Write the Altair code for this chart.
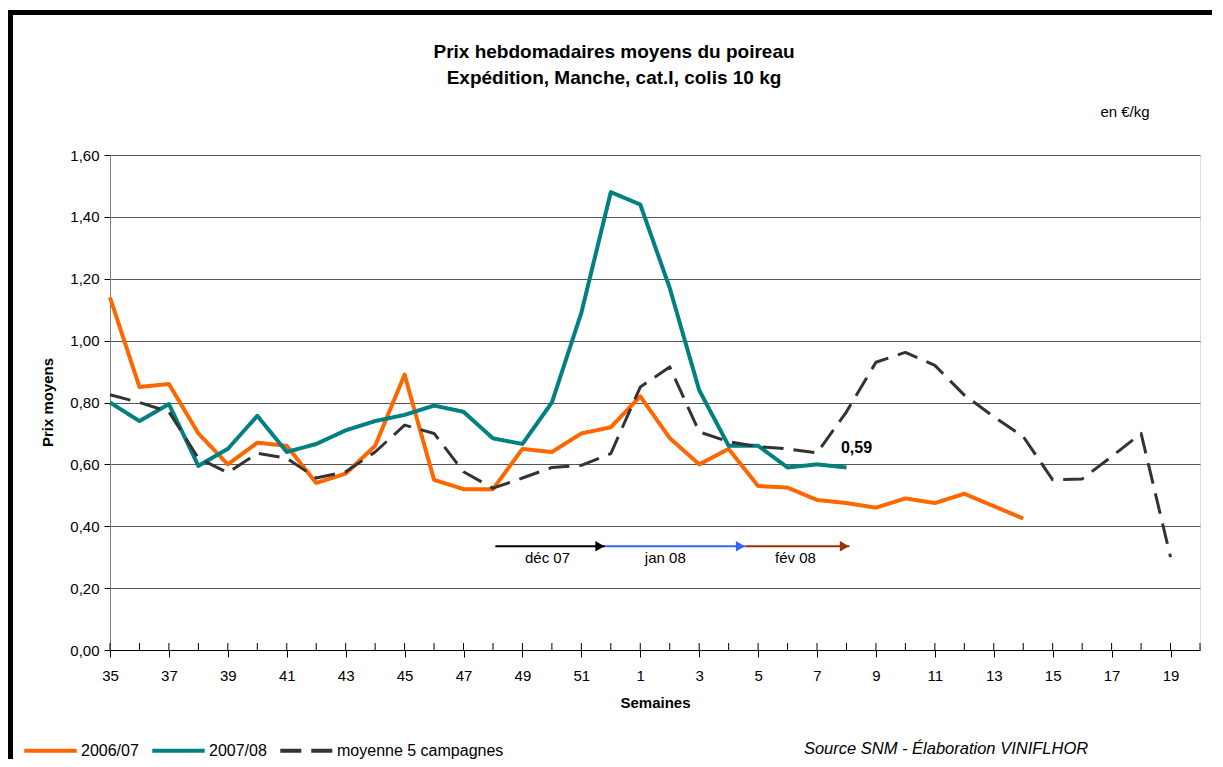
import altair as alt
import pandas as pd

FONT = "Liberation Sans, Arial, sans-serif"

# ---- data -------------------------------------------------------------
weeks = list(range(35, 53)) + list(range(1, 21))

series_names = ["2006/07", "2007/08", "moyenne 5 campagnes"]
series_colors = ["#FF6600", "#008080", "#333333"]

s_2006_07 = [1.14, 0.85, 0.86, 0.70, 0.60, 0.67, 0.66, 0.54, 0.57, 0.66,
             0.89, 0.55, 0.52, 0.52, 0.65, 0.64, 0.70, 0.72, 0.82, 0.685,
             0.60, 0.65, 0.53, 0.525, 0.485, 0.475, 0.46, 0.49, 0.475, 0.505,
             0.465, 0.425]

s_2007_08 = [0.80, 0.74, 0.795, 0.595, 0.65, 0.757, 0.64, 0.666, 0.71, 0.74,
             0.76, 0.79, 0.77, 0.684, 0.666, 0.80, 1.09, 1.48, 1.44, 1.17,
             0.84, 0.66, 0.66, 0.59, 0.60, 0.59]

s_moyenne = [0.825, 0.80, 0.77, 0.62, 0.573, 0.636, 0.62, 0.556, 0.576, 0.64,
             0.727, 0.70, 0.576, 0.523, 0.556, 0.59, 0.597, 0.635, 0.85, 0.915,
             0.705, 0.673, 0.657, 0.65, 0.637, 0.77, 0.93, 0.962, 0.92, 0.824,
             0.754, 0.69, 0.55, 0.553, 0.625, 0.70, 0.30]

y_ticks = [0.0, 0.2, 0.4, 0.6, 0.8, 1.0, 1.2, 1.4, 1.6]

title_lines = ["Prix hebdomadaires moyens du poireau",
               "Expédition, Manche, cat.I, colis 10 kg"]

# month arrows (in week-index units)
arrow_labels = ["déc 07", "jan 08", "fév 08"]
arrow_start = [13.08, 16.8, 21.57]
arrow_end = [16.8, 21.57, 25.1]
arrow_colors = ["#000000", "#3366FF", "#993300"]
arrow_value = 0.335
arrow_label_x = [14.85, 18.85, 23.27]
arrow_label_value = 0.297

last_label = "0,59"
last_label_x = 25.34
last_label_value = 0.654

rows = []
for name, vals in zip(series_names, [s_2006_07, s_2007_08, s_moyenne]):
    for i, v in enumerate(vals):
        rows.append({"idx": i, "semaine": weeks[i], "serie": name, "prix": v})
df = pd.DataFrame(rows)

ticks_df = pd.DataFrame({"idx": list(range(len(weeks)))})
arrows_df = pd.DataFrame({"start": arrow_start, "end": arrow_end,
                          "col": arrow_colors, "y": [arrow_value] * 3})
arrow_lab_df = pd.DataFrame({"x": arrow_label_x, "y": [arrow_label_value] * 3,
                             "t": arrow_labels})
last_df = pd.DataFrame({"x": [last_label_x], "y": [last_label_value], "t": [last_label]})

W, H = 1090, 495

xscale = alt.Scale(domain=[0, len(weeks) - 1], nice=False, zero=False)
yscale = alt.Scale(domain=[0, 1.6], nice=False)

label_expr = "datum.value % 2 == 0 ? '' + " + str(weeks) + "[datum.value] : ''"

lines = alt.Chart(df).mark_line(strokeJoin="round", strokeCap="butt").encode(
    x=alt.X("idx:Q", scale=xscale,
            axis=alt.Axis(values=list(range(len(weeks))), labelExpr=label_expr,
                          title="Semaines", grid=False, tickSize=7, tickColor="#000000",
                          domainColor="#000000", labelPadding=11, labelOverlap=False,
                          labelFlush=False, labelFont=FONT, labelFontSize=15,
                          labelColor="#000000", titleFont=FONT, titleFontSize=15,
                          titleFontWeight="bold", titleColor="#000000",
                          titleY=52, titleBaseline="middle")),
    y=alt.Y("prix:Q", scale=yscale,
            axis=alt.Axis(values=y_ticks,
                          labelExpr="replace(format(datum.value, '.2f'), '.', ',')",
                          grid=True, gridColor="#555555", gridWidth=1,
                          domainColor="#808080", tickColor="#000000", tickSize=6,
                          labelPadding=5, labelFont=FONT, labelFontSize=15,
                          labelColor="#000000", title="Prix moyens", titleFont=FONT,
                          titleFontSize=15, titleFontWeight="bold", titleColor="#000000",
                          titleAngle=-90, titleX=-63, titleY=247,
                          titleBaseline="middle", titleAlign="center")),
    color=alt.Color("serie:N",
                    scale=alt.Scale(domain=series_names, range=series_colors),
                    legend=alt.Legend(title=None, orient="none", direction="horizontal",
                                      legendX=-88, legendY=567, symbolType="stroke",
                                      symbolSize=2750, symbolStrokeWidth=4,
                                      labelFont=FONT, labelFontSize=16, labelLimit=400,
                                      labelColor="#000000", labelOffset=2,
                                      columnPadding=5, padding=0)),
    strokeDash=alt.StrokeDash("serie:N",
                              scale=alt.Scale(domain=series_names,
                                              range=[[1, 0], [1, 0], [21, 10]]),
                              legend=alt.Legend(title=None, orient="none")),
    strokeWidth=alt.condition("datum.serie == 'moyenne 5 campagnes'",
                              alt.value(3), alt.value(4)),
    order=alt.Order("idx:Q"),
)

tick_marks = alt.Chart(ticks_df).mark_rule(color="#000000", strokeWidth=1).encode(
    x=alt.X("idx:Q", scale=xscale),
    y=alt.value(H - 7), y2=alt.value(H),
)

arrow_lines = alt.Chart(arrows_df).mark_rule(strokeWidth=2).encode(
    x=alt.X("start:Q", scale=xscale), x2="end:Q",
    y=alt.Y("y:Q", scale=yscale),
    color=alt.Color("col:N", scale=None),
)
arrow_heads = alt.Chart(arrows_df).mark_point(shape="triangle-right", filled=True,
                                              size=110, opacity=1, xOffset=-5).encode(
    x=alt.X("end:Q", scale=xscale),
    y=alt.Y("y:Q", scale=yscale),
    color=alt.Color("col:N", scale=None),
)
arrow_text = alt.Chart(arrow_lab_df).mark_text(font=FONT, fontSize=15, color="#000000",
                                               baseline="middle").encode(
    x=alt.X("x:Q", scale=xscale), y=alt.Y("y:Q", scale=yscale), text="t:N")

last_text = alt.Chart(last_df).mark_text(font=FONT, fontSize=16, fontWeight="bold",
                                         color="#000000", baseline="middle").encode(
    x=alt.X("x:Q", scale=xscale), y=alt.Y("y:Q", scale=yscale), text="t:N")

title1 = alt.Chart(pd.DataFrame({"t": [title_lines[0]]})).mark_text(
    font=FONT, fontSize=19, fontWeight="bold", color="#000000", baseline="middle").encode(
    x=alt.value(504), y=alt.value(-103), text="t:N")
title2 = alt.Chart(pd.DataFrame({"t": [title_lines[1]]})).mark_text(
    font=FONT, fontSize=19, fontWeight="bold", color="#000000", baseline="middle").encode(
    x=alt.value(504), y=alt.value(-77), text="t:N")

unit_text = alt.Chart(pd.DataFrame({"t": ["en €/kg"]})).mark_text(
    font=FONT, fontSize=15, color="#000000", baseline="middle").encode(
    x=alt.value(1015), y=alt.value(-43), text="t:N")

source_text = alt.Chart(pd.DataFrame({"t": ["Source SNM - Élaboration VINIFLHOR"]})).mark_text(
    font=FONT, fontSize=16.5, fontStyle="italic", color="#000000", baseline="middle").encode(
    x=alt.value(836), y=alt.value(594), text="t:N")

border_top = alt.Chart(pd.DataFrame({"t": [0]})).mark_rule(color="#000000", strokeWidth=5).encode(
    x=alt.value(-102), x2=alt.value(1120), y=alt.value(-142.5))
border_left = alt.Chart(pd.DataFrame({"t": [0]})).mark_rule(color="#000000", strokeWidth=5).encode(
    x=alt.value(-99.5), y=alt.value(-145), y2=alt.value(620))

chart = alt.layer(
    lines, tick_marks, arrow_lines, arrow_heads, arrow_text, last_text,
    title1, title2, unit_text, source_text, border_top, border_left,
).properties(
    width=W, height=H,
    autosize=alt.AutoSizeParams(type="none"),
    padding={"left": 102, "top": 147, "right": 12, "bottom": 109},
).configure_view(stroke=None).configure(background="white")

chart.save("out.html", embed_options={"renderer": "svg", "actions": False})
